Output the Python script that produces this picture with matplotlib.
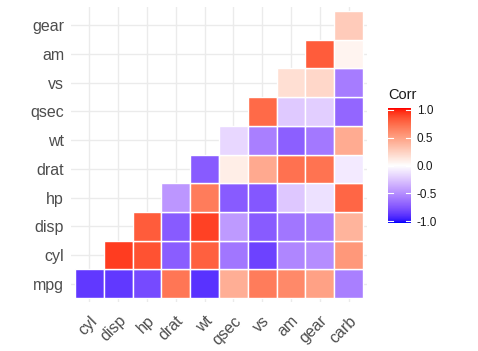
import numpy as np
import matplotlib
matplotlib.use("Agg")
import matplotlib.pyplot as plt
from matplotlib.colors import ListedColormap, Normalize

# ---- data ----
x_labels = ["cyl", "disp", "hp", "drat", "wt", "qsec", "vs", "am", "gear", "carb"]
y_labels = ["mpg", "cyl", "disp", "hp", "drat", "wt", "qsec", "vs", "am", "gear"]

r_mpg  = [-0.85, -0.85, -0.78, 0.68, -0.87, 0.42, 0.66, 0.60, 0.48, -0.55]
r_cyl  = [0.90, 0.83, -0.70, 0.78, -0.59, -0.81, -0.52, -0.49, 0.53]
r_disp = [0.79, -0.71, 0.89, -0.43, -0.71, -0.59, -0.56, 0.39]
r_hp   = [-0.45, 0.66, -0.71, -0.72, -0.24, -0.13, 0.75]
r_drat = [-0.71, 0.09, 0.44, 0.71, 0.70, -0.09]
r_wt   = [-0.17, -0.55, -0.69, -0.58, 0.43]
r_qsec = [0.74, -0.23, -0.21, -0.66]
r_vs   = [0.17, 0.21, -0.57]
r_am   = [0.79, 0.06]
r_gear = [0.27]
rows = [r_mpg, r_cyl, r_disp, r_hp, r_drat, r_wt, r_qsec, r_vs, r_am, r_gear]

legend_ticks = [-1.0, -0.5, 0.0, 0.5, 1.0]

# ---- Lab colour ramp blue-white-red (like scale_fill_gradient2) ----
MAT = np.array([[0.4124, 0.3576, 0.1805], [0.2126, 0.7152, 0.0722], [0.0193, 0.1192, 0.9505]])
WP = np.array([0.95047, 1.0, 1.08883])

def srgb2lab(rgb):
    c = np.asarray(rgb, float)
    lin = np.where(c <= 0.04045, c / 12.92, ((c + 0.055) / 1.055) ** 2.4)
    t = (MAT @ lin) / WP
    f = np.where(t > (6 / 29) ** 3, np.cbrt(t), t / (3 * (6 / 29) ** 2) + 4 / 29)
    return np.array([116 * f[1] - 16, 500 * (f[0] - f[1]), 200 * (f[1] - f[2])])

def lab2srgb(lab):
    L, a, b = lab
    fy = (L + 16) / 116
    fx = fy + a / 500
    fz = fy - b / 200
    def finv(f):
        return f ** 3 if f > 6 / 29 else 3 * (6 / 29) ** 2 * (f - 4 / 29)
    xyz = WP * np.array([finv(fx), finv(fy), finv(fz)])
    lin = np.clip(np.linalg.inv(MAT) @ xyz, 0, 1)
    c = np.where(lin <= 0.0031308, 12.92 * lin, 1.055 * lin ** (1 / 2.4) - 0.055)
    return np.clip(c, 0, 1)

blue = srgb2lab([0, 0, 1]); white = srgb2lab([1, 1, 1]); red = srgb2lab([1, 0, 0])
cols = []
for t in np.linspace(-1, 1, 256):
    lab = white + (blue - white) * (-t) if t < 0 else white + (red - white) * t
    cols.append(lab2srgb(lab))
cmap = ListedColormap(cols)
norm = Normalize(-1, 1)

# ---- figure ----
W, H = 478, 351
fig = plt.figure(figsize=(W / 100, H / 100), dpi=100)
fig.patch.set_facecolor("white")
ax = fig.add_axes([71 / W, 1 - 302 / H, (367 - 71) / W, (302 - 7) / H])

n = len(x_labels)
for k in range(n):
    ax.axvline(k, color="#EBEBEB", lw=1.0, zorder=0)
    ax.axhline(k, color="#EBEBEB", lw=1.0, zorder=0)

xs, ys, vs = [], [], []
for i, row in enumerate(rows):
    for k, v in enumerate(row):
        xs.append(i + k); ys.append(i); vs.append(v)
ax.bar(xs, height=1.0, bottom=np.array(ys) - 0.5, width=1.0,
       color=[cmap(norm(v)) for v in vs], edgecolor="white", linewidth=1.0, zorder=2)

ax.set_xlim(-0.64, n - 1 + 0.64)
ax.set_ylim(-0.64, n - 1 + 0.64)
for s in ax.spines.values():
    s.set_visible(False)
ax.set_facecolor("white")
ax.set_xticks(range(n))
ax.set_yticks(range(n))
ax.set_yticklabels(y_labels, fontsize=11.5, color="#4D4D4D", family="Liberation Sans")
ax.set_xticklabels(x_labels, fontsize=11.5, color="#4D4D4D", family="Liberation Sans",
                   rotation=45, ha="right", va="top", rotation_mode="anchor")
ax.tick_params(axis="both", length=0, pad=5)
ax.tick_params(axis="x", pad=8)

# ---- colourbar legend ----
cax = fig.add_axes([388 / W, 1 - 223 / H, 23 / W, 115 / H])
grad = np.linspace(-1, 1, 300).reshape(-1, 1)
cax.imshow(grad, aspect="auto", cmap=cmap, norm=norm, origin="lower", extent=[0, 1, -1.03, 1.03])
cax.set_xlim(0, 1)
cax.set_ylim(-1.03, 1.03)
for t in legend_ticks:
    cax.plot([0, 0.2], [t, t], color="white", lw=0.8)
    cax.plot([0.8, 1], [t, t], color="white", lw=0.8)
for s in cax.spines.values():
    s.set_visible(False)
cax.set_xticks([])
cax.yaxis.tick_right()
cax.set_yticks(legend_ticks)
cax.set_yticklabels([f"{t:.1f}" for t in legend_ticks], fontsize=8.5, color="#1A1A1A", family="Liberation Sans")
cax.tick_params(axis="y", length=0, pad=4)
fig.text(388 / W, 1 - 95 / H, "Corr", fontsize=10.5, color="#1A1A1A", family="Liberation Sans",
         ha="left", va="center")

fig.savefig("out.png", dpi=100, facecolor="white")
